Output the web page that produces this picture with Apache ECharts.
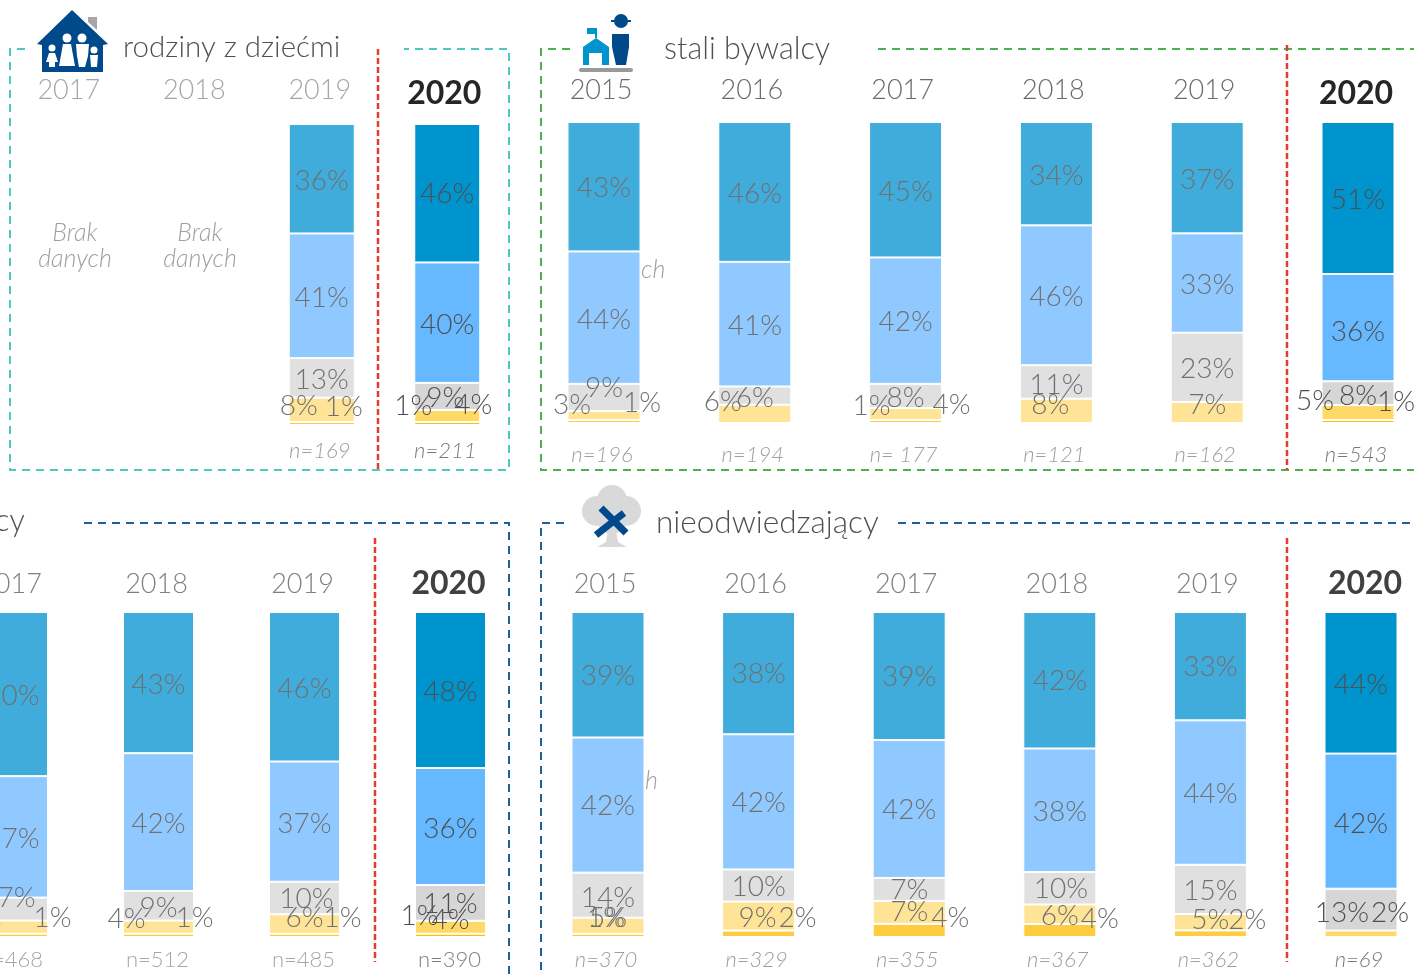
<!DOCTYPE html>
<html>
<head>
<meta charset="utf-8">
<style>
  html, body { margin: 0; padding: 0; background: #fff; overflow: hidden; }
  #chart { width: 1414px; height: 974px; }
</style>
</head>
<body>
<div id="chart"></div>
<script src="https://cdn.jsdelivr.net/npm/echarts@6/dist/echarts.min.js"></script>
<script>
// rodziny z dziećmi
const rodzinyYears = ["2017", "2018", "2019", "2020"];
const rodzinyN = ["", "", "n=169", "n=211"];
const rodzinySeg1 = [null, null, 36, 46];
const rodzinySeg2 = [null, null, 41, 40];
const rodzinySeg3 = [null, null, 13, 9];
const rodzinySeg4 = [null, null, 8, 4];
const rodzinySeg5 = [null, null, 1, 1];

// stali bywalcy
const staliYears = ["2015", "2016", "2017", "2018", "2019", "2020"];
const staliN = ["n=196", "n=194", "n= 177", "n=121", "n=162", "n=543"];
const staliSeg1 = [43, 46, 45, 34, 37, 51];
const staliSeg2 = [44, 41, 42, 46, 33, 36];
const staliSeg3 = [9, 6, 8, 11, 23, 8];
const staliSeg4 = [3, 6, 4, 8, 7, 5];
const staliSeg5 = [1, null, 1, null, null, 1];

// panel przyciety z lewej strony
const cyYears = ["2017", "2018", "2019", "2020"];
const cyN = ["n=468", "n=512", "n=485", "n=390"];
const cySeg1 = [50, 43, 46, 48];
const cySeg2 = [37, 42, 37, 36];
const cySeg3 = [7, 9, 10, 11];
const cySeg4 = [4, 4, 6, 4];
const cySeg5 = [1, 1, 1, 1];

// nieodwiedzający
const nieYears = ["2015", "2016", "2017", "2018", "2019", "2020"];
const nieN = ["n=370", "n=329", "n=355", "n=367", "n=362", "n=69"];
const nieSeg1 = [39, 38, 39, 42, 33, 44];
const nieSeg2 = [42, 42, 42, 38, 44, 42];
const nieSeg3 = [14, 10, 7, 10, 15, 13];
const nieSeg4 = [5, 9, 7, 6, 5, 2];
const nieSeg5 = [1, 2, 4, 4, 2, null];

// przesuniecia etykiet [dx, dy] dla kazdego slupka, segmenty od gory
const rodzinyOffsets = [
  null, null,
  [[0, 2], [0, 2], [0, 2], [-23, -4], [22, -17]],
  [[0, 1], [0, 2], [-2, 2], [26, -11], [-34, -18]],
];
const staliOffsets = [
  [[0, 1], [0, 2], [0, -9], [-32, -11], [38, -19]],
  [[0, 2], [0, 2], [0, 2], [-32, -12]],
  [[0, 2], [0, 1], [0, 2], [46, -9], [-34, -16]],
  [[0, 2], [0, 2], [0, 3], [-6, -6]],
  [[0, 2], [0, 2], [0, 2], [0, -7]],
  [[0, 2], [0, 4], [0, 3], [-43, -12], [38, -20]],
];
const cyOffsets = [
  [[0, 2], [0, 2], [4, -11], [-30, -8], [40, -17]],
  [[0, 2], [0, 2], [0, 2], [-32, -8], [36, -17]],
  [[0, 2], [0, 2], [2, 1], [0, -6], [38, -17]],
  [[0, 2], [0, 2], [0, 1], [0, -7], [-31, -19]],
];
const nieOffsets = [
  [[0, 1], [0, 1], [0, 3], [0, -8], [-2, -17]],
  [[0, 1], [0, 1], [0, 1], [-1, 2], [39, -16]],
  [[0, 1], [0, 1], [0, 1], [0, 0], [41, -12]],
  [[0, 1], [0, 2], [1, 1], [0, 2], [40, -12]],
  [[0, 1], [0, 1], [0, 2], [0, -2], [37, -14]],
  [[0, 2], [0, 3], [-19, 3], [29, -21]],
];

const FONT = "Lato";
const colors = ["#40ACDB", "#8FC9FF", "#E0E0E0", "#FFE396", "#FFCC40"];
const colorsLast = ["#0094CE", "#66B8FF", "#D6D6D6", "#FFD966", "#FFC000"];

const panels = [
  {
    years: rodzinyYears, ns: rodzinyN, offsets: rodzinyOffsets,
    segs: [rodzinySeg1, rodzinySeg2, rodzinySeg3, rodzinySeg4, rodzinySeg5],
    left: 8, width: 502, top: 124, height: 301, barWidth: 66,
    yearColor: "#A6A6A6", boldColor: "#262626", nColor: "#9E9E9E", nLast: "#7A7A7A", italic: true,
    yearMargin: 14, yearDrop: 6, yearPad: 4, boldLeft: 0, boldRight: 6, nMargin: 15, nPad: 4,
  },
  {
    years: staliYears, ns: staliN, offsets: staliOffsets,
    segs: [staliSeg1, staliSeg2, staliSeg3, staliSeg4, staliSeg5],
    left: 528.6, width: 904.8, top: 122, height: 301, barWidth: 73,
    yearColor: "#6B6B6B", boldColor: "#262626", nColor: "#9E9E9E", nLast: "#7A7A7A", italic: true,
    yearMargin: 12, yearDrop: 6, yearPad: 6, boldLeft: 0, boldRight: 4, nMargin: 21, nPad: 4,
  },
  {
    years: cyYears, ns: cyN, offsets: cyOffsets,
    segs: [cySeg1, cySeg2, cySeg3, cySeg4, cySeg5],
    left: -60.5, width: 584, top: 612, height: 325, barWidth: 71,
    yearColor: "#808080", boldColor: "#404040", nColor: "#A6A6A6", nLast: "#808080", italic: false,
    yearMargin: 12, yearDrop: 2, yearPad: 4, boldLeft: 0, boldRight: 4, nMargin: 12, nPad: 2,
  },
  {
    years: nieYears, ns: nieN, offsets: nieOffsets,
    segs: [nieSeg1, nieSeg2, nieSeg3, nieSeg4, nieSeg5],
    left: 532.7, width: 903.6, top: 612, height: 325, barWidth: 73,
    yearColor: "#808080", boldColor: "#404040", nColor: "#9E9E9E", nLast: "#7A7A7A", italic: true,
    yearMargin: 12, yearDrop: 2, yearPad: 6, boldLeft: 8, boldRight: 0, nMargin: 12, nPad: 4,
  },
];

const grids = [], xAxes = [], yAxes = [], series = [];

panels.forEach((p, idx) => {
  const last = p.years.length - 1;
  grids.push({ left: p.left, top: p.top, width: p.width, height: p.height, outerBoundsMode: "none" });
  xAxes.push({
    type: "category", gridIndex: idx, position: "top", data: p.years,
    axisLine: { show: false }, axisTick: { show: false },
    axisLabel: {
      interval: 0, margin: p.yearMargin,
      formatter: (v) => (v === "2020" ? "{b|" + v + "}" : "{y|" + v + "}"),
      rich: {
        y: { fontFamily: FONT, fontSize: 27, fontWeight: 300, color: p.yearColor, padding: [0, p.yearPad, p.yearDrop, 0] },
        b: { fontFamily: FONT, fontSize: 32, fontWeight: "bold", color: p.boldColor, padding: [0, p.boldRight, 0, p.boldLeft] },
      },
    },
  });
  xAxes.push({
    type: "category", gridIndex: idx, position: "bottom", data: p.ns,
    axisLine: { show: false }, axisTick: { show: false },
    axisLabel: {
      interval: 0, margin: p.nMargin, fontFamily: FONT, fontSize: 22, fontWeight: 300,
      padding: [0, p.nPad, 0, 0],
      fontStyle: p.italic ? "italic" : "normal",
      color: (v, i) => (i === last ? p.nLast : p.nColor),
    },
  });
  yAxes.push({ type: "value", gridIndex: idx, min: 0, max: 100, inverse: true, show: false });

  p.segs.forEach((seg, s) => {
    series.push({
      type: "bar",
      name: "seg" + (s + 1),
      xAxisIndex: idx * 2,
      yAxisIndex: idx,
      stack: "p" + idx,
      barWidth: p.barWidth,
      data: seg.map((v, i) => {
        if (v === null) return null;
        // wykres 100%: slupek zawsze wypelnia cala wysokosc
        const sum = p.segs.reduce((acc, row) => acc + (row[i] || 0), 0);
        const off = (p.offsets[i] && p.offsets[i][s]) || [0, 0];
        const isLast = i === last;
        return {
          value: (v / sum) * 100,
          itemStyle: {
            color: (isLast ? colorsLast : colors)[s],
            borderColor: "#fff",
            borderWidth: 1,
          },
          label: {
            show: true,
            position: "inside",
            offset: off,
            formatter: v + "%",
            fontFamily: FONT,
            fontSize: 28,
            fontWeight: 300,
            color: isLast ? "#4F4F4F" : "#707070",
          },
        };
      }),
    });
  });
});

const frame = (points, color) => ({
  type: "polyline",
  silent: true,
  shape: { points },
  style: { stroke: color, lineWidth: 2, lineDash: [8, 6], fill: null },
});
const divider = (x, y1, y2) => ({
  type: "line",
  silent: true,
  shape: { x1: x, y1, x2: x, y2 },
  style: { stroke: "#E8392E", lineWidth: 2.5, lineDash: [6, 3] },
});
const label = (text, x, y, size, color, extra) => ({
  type: "text",
  silent: true,
  x, y,
  style: Object.assign(
    { text, fontFamily: FONT, fontSize: size, fontWeight: 300, fill: color, textAlign: "left", textVerticalAlign: "middle" },
    extra || {}
  ),
});
const brak = (text, x, y) => label(text, x, y, 25, "#A0A0A0", { textAlign: "center", fontStyle: "italic" });
const poly = (points, fill) => ({ type: "polygon", silent: true, shape: { points }, style: { fill } });
const circle = (cx, cy, r, fill) => ({ type: "circle", silent: true, shape: { cx, cy, r }, style: { fill } });
const NAVY = "#004A8C";

const decorations = [
  // ramki
  frame([[25, 49], [10, 49], [10, 470], [509, 470], [509, 49], [404, 49]], "#4DC9C3"),
  frame([[570, 49], [541, 49], [541, 470], [1414, 470]], "#4CAF50"),
  frame([[878, 49], [1414, 49]], "#4CAF50"),
  frame([[84, 523], [509, 523], [509, 974]], "#1F5F99"),
  frame([[564, 523], [541, 523], [541, 974]], "#1F5F99"),
  frame([[898, 523], [1414, 523]], "#1F5F99"),
  divider(378, 49, 470),
  divider(1287, 45, 470),
  divider(375, 538, 962),
  divider(1287, 538, 962),
  // tytuly
  label("rodziny z dziećmi", 123, 47, 29.5, "#505050"),
  label("stali bywalcy", 664, 49, 30.5, "#505050"),
  label("nieodwiedzający", 656, 523, 31.5, "#505050"),
  label("cy", -5, 521, 30.5, "#505050"),
  // brak danych
  brak("Brak", 75, 233), brak("danych", 75, 259),
  brak("Brak", 200, 233), brak("danych", 200, 259),
  label("ch", 641, 270, 25, "#A0A0A0", { fontStyle: "italic" }),
  label("h", 645, 781, 25, "#A0A0A0", { fontStyle: "italic" }),
  // domek
  poly([[88, 17], [97, 17], [97, 30], [88, 22]], "#A6A6A6"),
  poly([[72, 10], [108, 44], [103, 45], [103, 72], [42, 72], [42, 45], [37, 44]], NAVY),
  circle(52, 48, 3.5, "#fff"), poly([[49, 53], [55, 53], [58, 62], [55, 62], [55, 67], [49, 67], [49, 62], [46, 62]], "#fff"),
  circle(67, 38, 4.5, "#fff"), poly([[63, 44], [71, 44], [75, 66], [59, 66]], "#fff"),
  circle(82, 38, 4.5, "#fff"), poly([[76, 44], [89, 44], [88, 56], [85, 67], [79, 67], [77, 56]], "#fff"),
  circle(94, 50, 3.5, "#fff"), poly([[90, 55], [98, 55], [97, 67], [91, 67]], "#fff"),
  // szkola i postac
  poly([[596, 38], [609, 47], [609, 65], [602, 65], [602, 53], [589, 53], [589, 65], [583, 65], [583, 47]], "#0094CE"),
  poly([[587, 28], [597, 28], [597, 38], [595, 38], [595, 34], [587, 34]], "#0094CE"),
  circle(621, 21, 7, NAVY),
  poly([[611, 20], [631, 20], [631, 22], [611, 22]], NAVY),
  poly([[612, 34], [629, 34], [629, 47], [626, 65], [616, 65], [612, 47]], NAVY),
  { type: "rect", silent: true, shape: { x: 579, y: 68, width: 54, height: 4, r: 2 }, style: { fill: "#999" } },
  // drzewo
  circle(612, 500, 15, "#D9D9D9"), circle(597, 511, 15, "#D9D9D9"), circle(626, 511, 15, "#D9D9D9"), circle(612, 519, 15, "#D9D9D9"),
  poly([[608, 530], [616, 530], [618, 542], [627, 547], [597, 547], [606, 542]], "#D9D9D9"),
  { type: "line", silent: true, shape: { x1: 601, y1: 508, x2: 626, y2: 533 }, style: { stroke: NAVY, lineWidth: 7 } },
  { type: "line", silent: true, shape: { x1: 624, y1: 513, x2: 596, y2: 535 }, style: { stroke: NAVY, lineWidth: 7 } },
];

const chart = echarts.init(document.getElementById("chart"), null, { renderer: "canvas" });
chart.setOption({
  animation: false,
  backgroundColor: "#fff",
  tooltip: { show: false },
  grid: grids,
  xAxis: xAxes,
  yAxis: yAxes,
  series: series,
  graphic: { elements: decorations },
});
</script>
</body>
</html>
